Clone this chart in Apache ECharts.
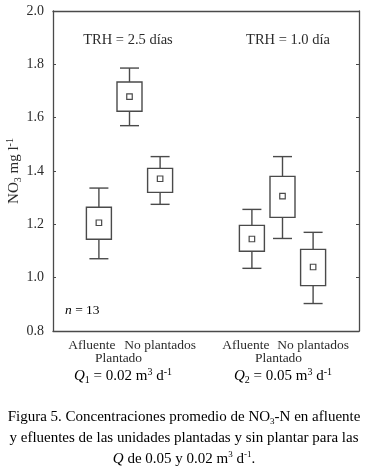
<!DOCTYPE html>
<html>
<head>
<meta charset="utf-8">
<script src="https://cdn.jsdelivr.net/npm/echarts@6/dist/echarts.min.js"></script>
<style>
  html, body { margin: 0; padding: 0; background: #fff; }
  #chart { width: 367px; height: 470px; }
</style>
</head>
<body>
<div id="chart"></div>
<script>
var chart = echarts.init(document.getElementById('chart'));

// 10 slots on the x axis, boxes sit on slots 1-3 and 6-8
var categories = ['', 'Afluente', 'Plantado', 'No plantados', '', '', 'Afluente', 'Plantado', 'No plantados', ''];
var boxSlot = [1, 2, 3, 6, 7, 8];
var means = [1.206, 1.679, 1.371, 1.145, 1.306, 1.040];
var boxLow = [1.144, 1.624, 1.320, 1.099, 1.226, 0.970];
var boxHigh = [1.264, 1.734, 1.410, 1.196, 1.380, 1.106];
var whiskerLow = [1.071, 1.570, 1.275, 1.035, 1.147, 0.903];
var whiskerHigh = [1.336, 1.786, 1.454, 1.256, 1.454, 1.170];
var yTicks = [0.8, 1.0, 1.2, 1.4, 1.6, 1.8, 2.0];

var FONT = '"Liberation Serif", serif';
var TXT = '#2b2b2b';
var LINE = '#4a4a4a';

var boxData = [];
for (var i = 0; i < boxSlot.length; i++) {
    boxData.push([boxSlot[i], whiskerLow[i], boxLow[i], means[i], boxHigh[i], whiskerHigh[i]]);
}

function renderBox(params, api) {
    var slot = api.value(0);
    var x = api.coord([slot, 0])[0];
    var yWl = api.coord([slot, api.value(1)])[1];
    var yBl = api.coord([slot, api.value(2)])[1];
    var yM = api.coord([slot, api.value(3)])[1];
    var yBh = api.coord([slot, api.value(4)])[1];
    var yWh = api.coord([slot, api.value(5)])[1];
    var bw = 25, cw = 19, ms = 5.5;
    var st = { stroke: LINE, lineWidth: 1.4, fill: null };
    return {
        type: 'group',
        children: [
            { type: 'line', shape: { x1: x, y1: yWh, x2: x, y2: yBh }, style: st },
            { type: 'line', shape: { x1: x, y1: yBl, x2: x, y2: yWl }, style: st },
            { type: 'line', shape: { x1: x - cw / 2, y1: yWh, x2: x + cw / 2, y2: yWh }, style: st },
            { type: 'line', shape: { x1: x - cw / 2, y1: yWl, x2: x + cw / 2, y2: yWl }, style: st },
            { type: 'rect', shape: { x: x - bw / 2, y: yBh, width: bw, height: yBl - yBh }, style: { stroke: LINE, lineWidth: 1.4, fill: '#fff' } },
            { type: 'rect', shape: { x: x - ms / 2, y: yM - ms / 2, width: ms, height: ms }, style: { stroke: LINE, lineWidth: 1.2, fill: '#fff' } }
        ]
    };
}

var supSub = {
    n: { fontFamily: FONT, fontSize: 15, color: TXT, lineHeight: 18 },
    i: { fontFamily: FONT, fontSize: 15, color: TXT, lineHeight: 18, fontStyle: 'italic' },
    sub: { fontFamily: FONT, fontSize: 10, color: TXT, lineHeight: 10, verticalAlign: 'bottom' },
    sup: { fontFamily: FONT, fontSize: 10, color: TXT, lineHeight: 10, verticalAlign: 'top' }
};

function capStyle(size) {
    return {
        n: { fontFamily: FONT, fontSize: size, color: TXT, lineHeight: 18 },
        i: { fontFamily: FONT, fontSize: size, color: TXT, lineHeight: 18, fontStyle: 'italic' },
        sub: { fontFamily: FONT, fontSize: 9, color: TXT, lineHeight: 9, verticalAlign: 'bottom' },
        sup: { fontFamily: FONT, fontSize: 9, color: TXT, lineHeight: 9, verticalAlign: 'top' }
    };
}

var option = {
    animation: false,
    backgroundColor: '#fff',
    grid: { left: 53, right: 8, top: 11, bottom: 139, containLabel: false, outerBoundsMode: 'none' },
    xAxis: [{
        type: 'category',
        data: categories,
        position: 'bottom',
        axisLine: { lineStyle: { color: LINE, width: 1.3 } },
        axisTick: { inside: true, alignWithLabel: true, length: 3, lineStyle: { color: LINE } },
        axisLabel: {
            interval: 0,
            margin: 7,
            fontFamily: FONT,
            fontSize: 13.5,
            color: TXT,
            formatter: function (v, idx) {
                if (v === 'Afluente') return '{af' + (idx < 5 ? 1 : 2) + '|' + v + '}';
                if (v === 'Plantado') return '{pl' + (idx < 5 ? 1 : 2) + '|' + v + '}';
                return v;
            },
            rich: {
                af1: { fontFamily: FONT, fontSize: 13.5, color: TXT, padding: [0, 14, 0, 0] },
                af2: { fontFamily: FONT, fontSize: 13.5, color: TXT, padding: [0, 12, 0, 0] },
                pl1: { fontFamily: FONT, fontSize: 13.5, color: TXT, padding: [13, 22, 0, 0] },
                pl2: { fontFamily: FONT, fontSize: 13.5, color: TXT, padding: [13, 8, 0, 0] }
            }
        },
        splitLine: { show: false }
    }, {
        type: 'category',
        data: categories,
        position: 'top',
        axisLine: { lineStyle: { color: LINE, width: 1.3 } },
        axisTick: { inside: true, alignWithLabel: true, length: 3, lineStyle: { color: LINE } },
        axisLabel: { show: false },
        splitLine: { show: false }
    }],
    yAxis: [{
        type: 'value',
        min: yTicks[0],
        max: yTicks[yTicks.length - 1],
        interval: 0.2,
        position: 'left',
        name: '{n|NO}{sub|3}{n| mg l}{sup|-1}',
        nameLocation: 'middle',
        nameGap: 30,
        nameMoveOverlap: false,
        nameRotate: 90,
        nameTextStyle: { rich: supSub },
        axisLine: { show: true, lineStyle: { color: LINE, width: 1.3 } },
        axisTick: { show: true, inside: true, length: 3, lineStyle: { color: LINE } },
        axisLabel: {
            margin: 9,
            fontFamily: FONT,
            fontSize: 14,
            color: TXT,
            formatter: function (v) { return v.toFixed(1); }
        },
        splitLine: { show: false }
    }, {
        type: 'value',
        min: yTicks[0],
        max: yTicks[yTicks.length - 1],
        interval: 0.2,
        position: 'right',
        axisLine: { show: true, lineStyle: { color: LINE, width: 1.3 } },
        axisTick: { show: true, inside: true, length: 3, lineStyle: { color: LINE } },
        axisLabel: { show: false },
        splitLine: { show: false }
    }],
    series: [{
        type: 'custom',
        xAxisIndex: 0,
        yAxisIndex: 0,
        renderItem: renderBox,
        encode: { x: 0, y: [1, 2, 3, 4, 5] },
        data: boxData
    }],
    graphic: [
        { type: 'text', x: 128, y: 40, style: { text: 'TRH = 2.5 días', fontFamily: FONT, fontSize: 14.5, fill: TXT, align: 'center', verticalAlign: 'middle' } },
        { type: 'text', x: 288, y: 40, style: { text: 'TRH = 1.0 día', fontFamily: FONT, fontSize: 14.5, fill: TXT, align: 'center', verticalAlign: 'middle' } },
        { type: 'text', x: 65, y: 310, style: { text: '{i|n}{n| = 13}', rich: capStyle(13.5), align: 'left', verticalAlign: 'middle' } },
        { type: 'text', x: 123, y: 376, style: { text: '{i|Q}{sub|1}{n| = 0.02 m}{sup|3}{n| d}{sup|-1}', rich: supSub, align: 'center', verticalAlign: 'middle' } },
        { type: 'text', x: 283, y: 376, style: { text: '{i|Q}{sub|2}{n| = 0.05 m}{sup|3}{n| d}{sup|-1}', rich: supSub, align: 'center', verticalAlign: 'middle' } },
        { type: 'text', x: 184, y: 417, style: { text: '{n|Figura 5. Concentraciones promedio de NO}{sub|3}{n|-N en afluente}', rich: capStyle(15), align: 'center', verticalAlign: 'middle' } },
        { type: 'text', x: 184, y: 438, style: { text: '{n|y efluentes de las unidades plantadas y sin plantar para las}', rich: capStyle(15), align: 'center', verticalAlign: 'middle' } },
        { type: 'text', x: 184, y: 459, style: { text: '{i|Q}{n| de 0.05 y 0.02 m}{sup|3}{n| d}{sup|-1}{n|.}', rich: capStyle(15), align: 'center', verticalAlign: 'middle' } }
    ]
};

chart.setOption(option);
</script>
</body>
</html>
